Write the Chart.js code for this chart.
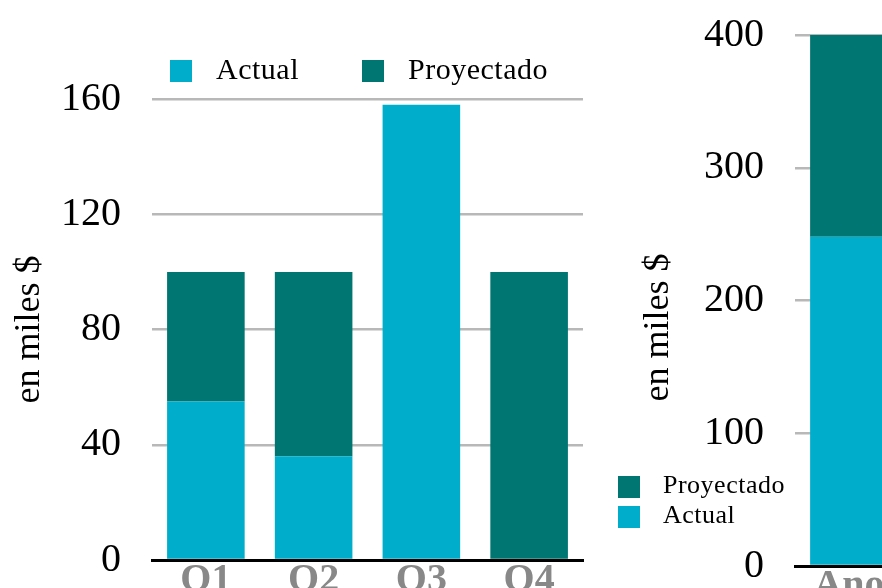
<!DOCTYPE html>
<html>
<head>
<meta charset="utf-8">
<script src="https://cdn.jsdelivr.net/npm/chart.js@4"></script>
<style>
  html, body { margin: 0; padding: 0; background: #fff; }
  body { width: 882px; height: 588px; overflow: hidden; position: relative; }
  .box { position: absolute; }
  .legend { position: absolute; font-family: 'Liberation Serif', 'Times New Roman', serif; color: #000; }
  .legend .item { position: absolute; white-space: nowrap; }
  .legend .sw { position: absolute; width: 22px; height: 22px; }
</style>
</head>
<body>
<div class="box" style="left:0;top:0;width:600px;height:620px;"><canvas id="quarterChart"></canvas></div>
<div class="box" style="left:600px;top:-20px;width:303px;height:646px;"><canvas id="yearChart"></canvas></div>
<div class="legend" id="legendQ"></div>
<div class="legend" id="legendY"></div>
<script>
// quarterly values (en miles $)
var quarters = ['Q1', 'Q2', 'Q3', 'Q4'];
var actualQ = [55, 36, 158, 0];
var proyectadoQ = [45, 64, 0, 100];

// yearly total
var yearLabels = ['Ano'];
var actualYear = [248];
var proyectadoYear = [152];

var serif = "'Liberation Serif', 'Times New Roman', serif";
var cActual = '#00aecb';
var cProy = '#007672';

function yScale(max, step, width, titlePad, titleText) {
    return {
        stacked: true,
        min: 0,
        max: max,
        afterFit: function (scale) { scale.width = width; },
        ticks: { stepSize: step, padding: 31, color: '#000', font: { family: serif, size: 40 } },
        grid: { color: '#b8b8b8', lineWidth: 2.5, drawTicks: false },
        border: { display: false },
        title: { display: true, text: titleText, color: '#000', padding: { top: titlePad }, font: { family: serif, size: 36 } }
    };
}

function xScale() {
    return {
        stacked: true,
        afterFit: function (scale) { scale.height = 60; },
        ticks: { padding: -3, color: '#888', font: { family: serif, size: 40, weight: 'bold' } },
        grid: { display: false, drawTicks: false },
        border: { display: true, color: '#000', width: 3 }
    };
}

var quarterChart = new Chart(document.getElementById('quarterChart'), {
    type: 'bar',
    data: {
        labels: quarters,
        datasets: [
            { label: 'Actual', data: actualQ, backgroundColor: cActual },
            { label: 'Proyectado', data: proyectadoQ, backgroundColor: cProy }
        ]
    },
    options: {
        responsive: true,
        maintainAspectRatio: false,
        animation: false,
        layout: { padding: { top: 99, right: 17 } },
        datasets: { bar: { categoryPercentage: 1, barPercentage: 0.72 } },
        plugins: { legend: { display: false }, tooltip: { enabled: false } },
        scales: { x: xScale(), y: yScale(160, 40, 152, 8, 'en miles $') }
    }
});

var yearChart = new Chart(document.getElementById('yearChart'), {
    type: 'bar',
    data: {
        labels: yearLabels,
        datasets: [
            { label: 'Actual', data: actualYear, backgroundColor: cActual },
            { label: 'Proyectado', data: proyectadoYear, backgroundColor: cProy }
        ]
    },
    options: {
        responsive: true,
        maintainAspectRatio: false,
        animation: false,
        layout: { padding: { top: 15 } },
        datasets: { bar: { categoryPercentage: 1, barPercentage: 0.72 } },
        plugins: { legend: { display: false }, tooltip: { enabled: false } },
        // trailing spaces push the rotated title a bit lower, like the original
        scales: { x: xScale(), y: yScale(400, 100, 195, 37, 'en miles $      ') }
    }
});

// html legends built from the chart datasets
function buildLegend(el, chart, spots, fontSize) {
    chart.data.datasets.forEach(function (ds, i) {
        var p = spots[i];
        var item = document.createElement('div');
        item.className = 'item';
        item.style.left = p.x + 'px';
        item.style.top = p.y + 'px';
        var sw = document.createElement('div');
        sw.className = 'sw';
        sw.style.background = ds.backgroundColor;
        sw.style.left = '0px';
        sw.style.top = '0px';
        var tx = document.createElement('div');
        tx.style.position = 'absolute';
        tx.style.left = p.tx + 'px';
        tx.style.top = p.ty + 'px';
        tx.style.fontSize = fontSize + 'px';
        tx.style.lineHeight = '1';
        tx.style.letterSpacing = '0.5px';
        tx.textContent = ds.label;
        item.appendChild(sw);
        item.appendChild(tx);
        el.appendChild(item);
    });
}

buildLegend(document.getElementById('legendQ'), quarterChart,
    [{ x: 170, y: 60, tx: 46, ty: -6 }, { x: 362, y: 60, tx: 46, ty: -6 }], 30);
buildLegend(document.getElementById('legendY'), yearChart,
    [{ x: 618, y: 506, tx: 45, ty: -4 }, { x: 618, y: 476, tx: 45, ty: -4 }], 26);
</script>
</body>
</html>
